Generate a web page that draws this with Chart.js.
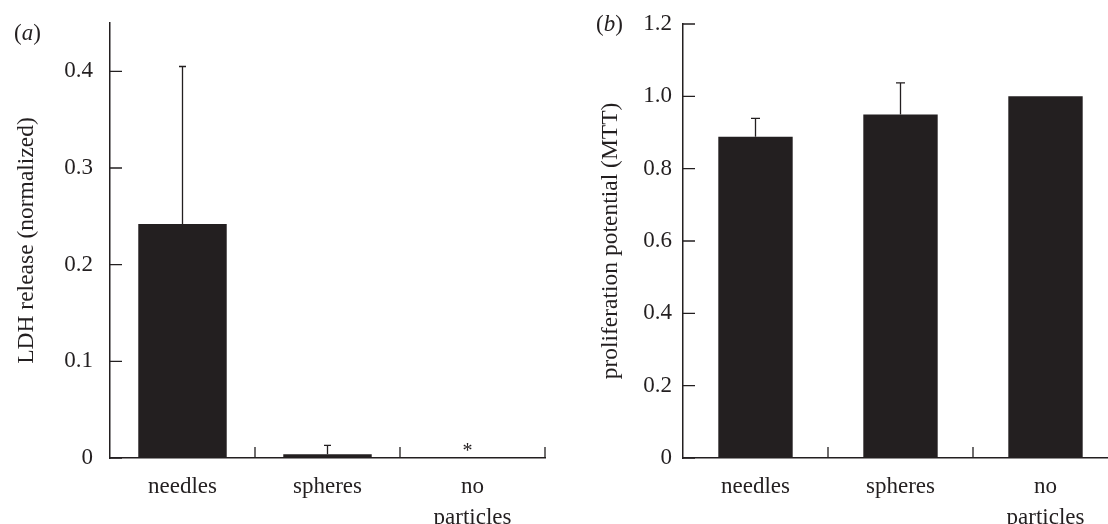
<!DOCTYPE html>
<html>
<head>
<meta charset="utf-8">
<script src="https://cdn.jsdelivr.net/npm/chart.js@4"></script>
<style>
  html, body { margin: 0; padding: 0; background: #fff; overflow: hidden; }
  body { width: 1108px; height: 524px; position: relative; }
  canvas { position: absolute; top: 0; }
  #ldhChart { left: 0; }
  #mttChart { left: 554px; }
  .panel { position: absolute; font-family: 'Liberation Serif', serif; font-size: 23px; line-height: 1; color: #231f20; }
</style>
</head>
<body>
<canvas id="ldhChart" width="560" height="524"></canvas>
<canvas id="mttChart" width="580" height="524"></canvas>
<div class="panel" style="left:14px; top:21px">(<i>a</i>)</div>
<div class="panel" style="left:596px; top:12px">(<i>b</i>)</div>
<script>
const categories = ['needles', 'spheres', ['no', 'particles']];

// (a) LDH release
const ldhValues = [0.242, 0.004, 0];
const ldhErrors = [0.163, 0.009, 0];
const ldhNotes = ['', '', '*'];
const ldhTicks = [0, 0.1, 0.2, 0.3, 0.4];
const ldhTickLabels = ['0', '0.1', '0.2', '0.3', '0.4'];

// (b) MTT proliferation
const mttValues = [0.888, 0.950, 1.0];
const mttErrors = [0.051, 0.087, 0];
const mttNotes = ['', '', ''];
const mttTicks = [0, 0.2, 0.4, 0.6, 0.8, 1.0, 1.2];
const mttTickLabels = ['0', '0.2', '0.4', '0.6', '0.8', '1.0', '1.2'];

const ink = '#231f20';
const serif = "'Liberation Serif', 'Times New Roman', serif";

// inward ticks, error bars and significance marks
const axisDecor = {
    id: 'axisDecor',
    afterDatasetsDraw(chart, args, opts) {
        const { ctx, chartArea: area, scales: { x, y } } = chart;
        ctx.save();
        ctx.strokeStyle = ink;
        ctx.lineWidth = 1.3;

        ctx.beginPath();
        y.ticks.forEach(t => {
            const py = y.getPixelForValue(t.value);
            ctx.moveTo(area.left, py);
            ctx.lineTo(area.left + 12, py);
        });
        const step = x.getPixelForValue(1) - x.getPixelForValue(0);
        for (let i = 0; i < chart.data.labels.length; i++) {
            const px = x.getPixelForValue(i) + step / 2;
            ctx.moveTo(px, area.bottom);
            ctx.lineTo(px, area.bottom - 11);
        }
        ctx.stroke();

        const values = chart.data.datasets[0].data;
        opts.errors.forEach((e, i) => {
            if (!e) return;
            const px = x.getPixelForValue(i);
            const base = y.getPixelForValue(values[i]);
            const top = y.getPixelForValue(values[i] + e);
            ctx.beginPath();
            ctx.moveTo(px, base);
            ctx.lineTo(px, top);
            ctx.moveTo(px - opts.cap, top);
            ctx.lineTo(px + opts.cap, top);
            ctx.stroke();
        });

        ctx.fillStyle = ink;
        ctx.font = '20px ' + serif;
        ctx.textAlign = 'center';
        ctx.textBaseline = 'middle';
        opts.notes.forEach((n, i) => {
            if (!n) return;
            const px = x.getPixelForValue(i) - 5;
            const py = y.getPixelForValue(values[i]) - 6;
            ctx.fillText(n, px, py);
        });
        ctx.restore();
    }
};

const makeChart = (id, cfg) => new Chart(document.getElementById(id), {
    type: 'bar',
    data: {
        labels: categories,
        datasets: [{
            data: cfg.values,
            backgroundColor: ink,
            borderWidth: 0,
            barPercentage: cfg.barPct,
            categoryPercentage: 1
        }]
    },
    options: {
        responsive: false,
        animation: false,
        devicePixelRatio: 1,
        layout: { padding: { top: cfg.top, right: cfg.right, bottom: 0, left: 0 } },
        plugins: {
            legend: { display: false },
            tooltip: { enabled: false },
            axisDecor: { errors: cfg.errors, notes: cfg.notes, cap: cfg.cap }
        },
        scales: {
            x: {
                grid: { display: false, drawTicks: false },
                border: { display: true, color: ink, width: 1.5 },
                ticks: {
                    color: ink,
                    font: { family: serif, size: 23, lineHeight: 1.37 },
                    padding: 13,
                    maxRotation: 0,
                    autoSkip: false
                },
                afterFit: s => {
                    s.height = 66;
                    s.paddingLeft = 0;
                    s.paddingRight = 0;
                }
            },
            y: {
                min: 0,
                max: cfg.max,
                grid: { display: false, drawTicks: false },
                border: { display: true, color: ink, width: 1.5 },
                ticks: {
                    color: ink,
                    font: { family: serif, size: 23 },
                    padding: cfg.tickPad,
                    callback: (v, i) => cfg.tickLabels[i]
                },
                afterBuildTicks: s => { s.ticks = cfg.ticks.map(v => ({ value: v })); },
                afterFit: s => {
                    s.width = cfg.yWidth;
                    s.paddingTop = 0;
                    s.paddingBottom = 0;
                },
                title: {
                    display: true,
                    text: cfg.title,
                    color: ink,
                    font: { family: serif, size: 23.5, lineHeight: 1.2 },
                    padding: { top: cfg.titlePad, bottom: 0 }
                }
            }
        }
    },
    plugins: [axisDecor]
});

makeChart('ldhChart', {
    values: ldhValues, errors: ldhErrors, notes: ldhNotes,
    ticks: ldhTicks, tickLabels: ldhTickLabels, max: 0.45,
    title: 'LDH release (normalized)',
    barPct: 0.61, cap: 3.5, top: 23, right: 15,
    yWidth: 110, tickPad: 17, titlePad: 12.4
});

makeChart('mttChart', {
    values: mttValues, errors: mttErrors, notes: mttNotes,
    ticks: mttTicks, tickLabels: mttTickLabels, max: 1.2,
    title: 'proliferation potential (MTT)',
    barPct: 0.513, cap: 4.5, top: 24, right: 16,
    yWidth: 129, tickPad: 11, titlePad: 42.4
});
</script>
</body>
</html>
